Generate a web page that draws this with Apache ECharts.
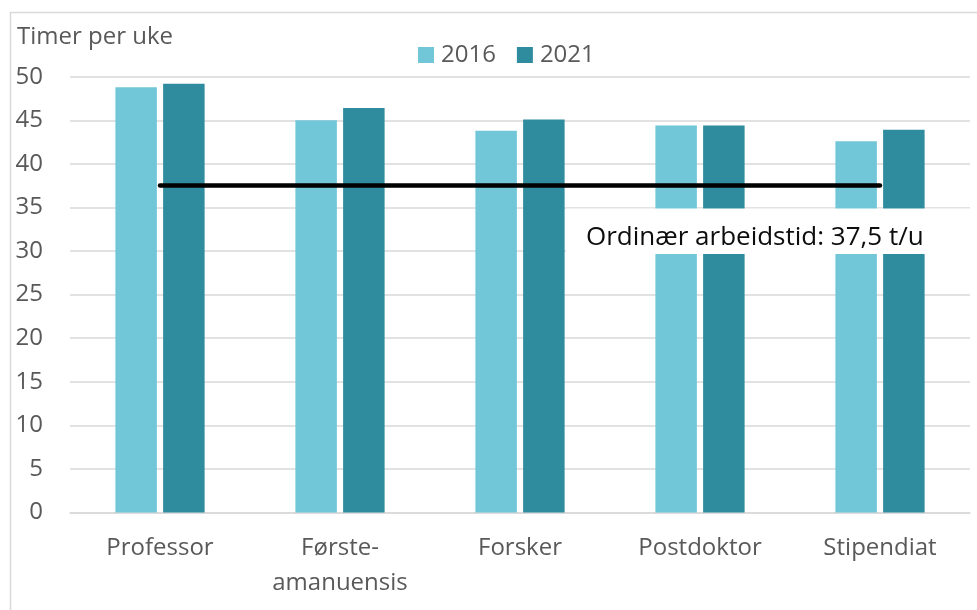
<!DOCTYPE html>
<html>
<head>
<meta charset="utf-8">
<script src="https://cdn.jsdelivr.net/npm/echarts@6/dist/echarts.min.js"></script>
<style>
html,body{margin:0;padding:0;background:#fff;}
#chart{width:977px;height:610px;}
</style>
</head>
<body>
<div id="chart"></div>
<script>
const categories = ['Professor', 'Første-\namanuensis', 'Forsker', 'Postdoktor', 'Stipendiat'];
const seriesNames = ['2016', '2021'];
const values2016 = [48.8, 45.0, 43.8, 44.4, 42.6];
const values2021 = [49.2, 46.4, 45.1, 44.4, 43.9];
const normalHours = 37.5;
const yAxisTitle = 'Timer per uke';
const annotationText = 'Ordinær arbeidstid: 37,5 t/u';

const FONT = '"Open Sans", "Noto Sans", sans-serif';
const chart = echarts.init(document.getElementById('chart'), null, {renderer: 'canvas'});

chart.setOption({
  animation: false,
  backgroundColor: '#ffffff',
  textStyle: {fontFamily: FONT},
  title: {
    text: yAxisTitle,
    left: 17, top: 25, padding: 0,
    textStyle: {fontSize: 24, fontWeight: 'normal', color: '#595959', fontFamily: FONT}
  },
  legend: {
    data: seriesNames,
    left: 418, top: 43, padding: 0,
    icon: 'rect', itemWidth: 16, itemHeight: 16, itemGap: 21,
    textStyle: {fontSize: 24, color: '#595959', fontFamily: FONT, padding: [0, 0, 0, 2]}
  },
  grid: {left: 70, right: 7, top: 76.7, bottom: 97.5, containLabel: false},
  xAxis: {
    type: 'category',
    data: categories,
    axisTick: {show: false},
    axisLine: {show: true, lineStyle: {color: '#d9d9d9', width: 1.5}},
    axisLabel: {fontSize: 24, color: '#595959', fontFamily: FONT, margin: 18, lineHeight: 35, interval: 0}
  },
  yAxis: {
    type: 'value',
    min: 0, max: 50, interval: 5,
    axisLine: {show: false},
    axisTick: {show: false},
    splitLine: {show: true, lineStyle: {color: '#d9d9d9', width: 1.5}},
    axisLabel: {fontSize: 24, color: '#595959', fontFamily: FONT, margin: 27}
  },
  series: [
    {
      name: seriesNames[0], type: 'bar', data: values2016,
      barWidth: 41.5, barGap: '15%',
      itemStyle: {color: '#71C7D7'}
    },
    {
      name: seriesNames[1], type: 'bar', data: values2021,
      barWidth: 41.5, barGap: '15%',
      itemStyle: {color: '#2E8C9E'}
    },
    {
      name: 'normal', type: 'line', data: [],
      silent: true,
      markLine: {
        silent: true,
        symbol: ['none', 'none'],
        label: {show: false},
        lineStyle: {color: '#000000', width: 4.5, type: 'solid', cap: 'round'},
        z: 20,
        data: [[
          {coord: [categories[0], normalHours]},
          {coord: [categories[categories.length - 1], normalHours]}
        ]]
      }
    }
  ],
  graphic: [
    {
      type: 'rect', z: 0, silent: true,
      shape: {x: 10.5, y: 12.5, width: 1000, height: 700},
      style: {fill: 'none', stroke: '#d9d9d9', lineWidth: 1.5}
    },
    {
      type: 'rect', z: 50, silent: true,
      shape: {x: 566, y: 208.5, width: 405, height: 45.5},
      style: {fill: '#ffffff'}
    },
    {
      type: 'text', z: 51, silent: true,
      x: 586, y: 238,
      style: {text: annotationText, fontSize: 26, fontFamily: FONT, fill: '#0d0d0d', verticalAlign: 'middle', align: 'left'}
    }
  ]
});
</script>
</body>
</html>
